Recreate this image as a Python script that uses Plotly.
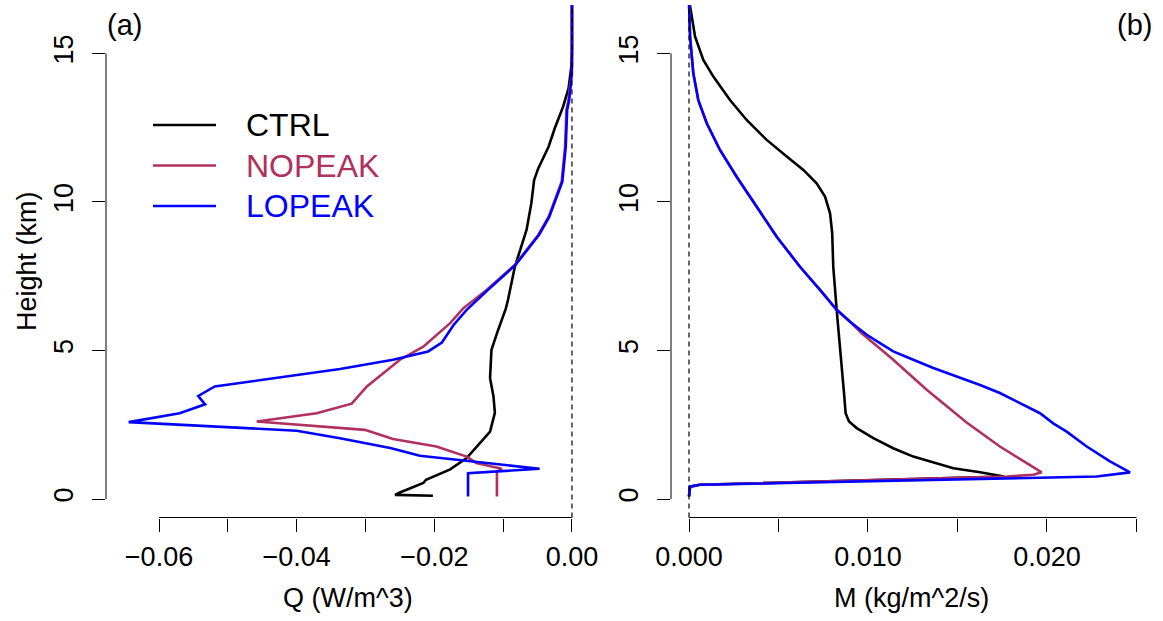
import plotly.graph_objects as go

# ---------------- data ----------------
series_names = ["CTRL", "NOPEAK", "LOPEAK"]
series_colors = ["#000000", "#B03060", "#0000FF"]

# Panel (a): Q (W/m^3) vs height (km)
ctrl_q_x = [-0.0202, -0.0257, -0.0250, -0.0216, -0.0212, -0.0177, -0.0153, -0.0119, -0.0112,
            -0.0114, -0.0119, -0.0117, -0.0109, -0.0096, -0.0093, -0.0083, -0.0066, -0.0059,
            -0.0055, -0.0049, -0.0034, -0.0025, -0.0013, -0.0005, -0.0001, 0.0, 0.0]
ctrl_q_h = [0.11, 0.14, 0.22, 0.54, 0.65, 1.00, 1.38, 2.27, 2.90,
            3.45, 4.07, 5.02, 5.58, 6.42, 6.70, 7.82, 9.06, 9.96,
            10.74, 11.13, 11.86, 12.48, 13.20, 13.82, 14.55, 15.10, 16.70]

nopeak_q_x = [-0.0109, -0.0109, -0.0102, -0.0139, -0.0153, -0.0197, -0.0260, -0.0301, -0.0458,
              -0.0371, -0.0320, -0.0298, -0.0289, -0.0250, -0.0216, -0.0177, -0.0158, -0.0124,
              -0.0083, -0.0049, -0.0034, -0.0015, -0.0010, -0.0008, -0.0005, -0.0003, 0.0, 0.0]
nopeak_q_h = [0.09, 0.93, 1.02, 1.21, 1.43, 1.77, 2.02, 2.33, 2.61,
              2.89, 3.21, 3.79, 3.96, 4.69, 5.13, 5.92, 6.42, 7.04,
              7.88, 8.89, 9.50, 10.68, 11.86, 13.10, 13.43, 13.88, 14.30, 16.70]

lopeak_q_x = [-0.0151, -0.0151, -0.0047, -0.0221, -0.0264, -0.0337, -0.0400, -0.0644, -0.0570,
              -0.0533, -0.0543, -0.0519, -0.0337, -0.0260, -0.0209, -0.0189, -0.0172, -0.0153,
              -0.0122, -0.0082, -0.0048, -0.0033, -0.0014, -0.0009, -0.0007, -0.0004, -0.0002,
              0.0, 0.0]
lopeak_q_h = [0.09, 0.87, 1.02, 1.46, 1.72, 2.05, 2.30, 2.59, 2.89,
              3.19, 3.47, 3.79, 4.38, 4.69, 4.97, 5.27, 5.86, 6.37,
              7.04, 7.88, 8.89, 9.50, 10.68, 11.86, 13.10, 13.43, 13.88,
              14.60, 16.70]

# Panel (b): M (kg/m^2/s) vs height (km)
ctrl_m_x = [0.0, 0.00006, 0.0006, 0.0176, 0.01626, 0.01477, 0.01253, 0.01141, 0.0103,
            0.00937, 0.00894, 0.00875, 0.00866, 0.00844, 0.00825, 0.00806, 0.0080, 0.00788,
            0.0076, 0.00713, 0.00639, 0.00546, 0.00434, 0.00322, 0.00229, 0.00136, 0.0008,
            0.00034, 0.00006, 0.00003]
ctrl_m_h = [0.09, 0.42, 0.48, 0.76, 0.90, 1.04, 1.43, 1.71, 2.05,
            2.39, 2.61, 2.89, 3.57, 5.02, 6.37, 7.82, 8.95, 9.62,
            10.18, 10.63, 11.08, 11.53, 12.09, 12.76, 13.43, 14.22, 14.78,
            15.56, 16.57, 16.70]

nopeak_m_x = [0.0, 0.00006, 0.0006, 0.01775, 0.01924, 0.0197, 0.01887, 0.01737, 0.01551,
              0.01328, 0.01141, 0.00965, 0.0090, 0.00825, 0.00732, 0.0062, 0.0049, 0.00378,
              0.00266, 0.00173, 0.00099, 0.00052, 0.00024, 0.00006, 0.0]
nopeak_m_h = [0.09, 0.42, 0.48, 0.76, 0.82, 0.90, 1.21, 1.77, 2.58,
              3.68, 4.69, 5.58, 5.97, 6.37, 7.04, 7.82, 8.83, 9.84,
              10.85, 11.75, 12.65, 13.43, 14.33, 15.56, 16.70]

lopeak_m_x = [0.0, 0.00006, 0.0006, 0.02278, 0.02464, 0.02352, 0.02222, 0.0211, 0.02035,
              0.01961, 0.01849, 0.01737, 0.01626, 0.01496, 0.01365, 0.01253, 0.01141, 0.01067,
              0.00993, 0.0090, 0.00825, 0.00732, 0.0062, 0.0049, 0.00378, 0.00266, 0.00173,
              0.00099, 0.00052, 0.00024, 0.00006, 0.0]
lopeak_m_h = [0.09, 0.42, 0.48, 0.76, 0.90, 1.27, 1.77, 2.27, 2.55,
              2.89, 3.23, 3.57, 3.84, 4.12, 4.41, 4.69, 4.97, 5.25,
              5.53, 5.97, 6.37, 7.04, 7.82, 8.83, 9.84, 10.85, 11.75,
              12.65, 13.43, 14.33, 15.56, 16.70]

q_ticks = [-0.06, -0.05, -0.04, -0.03, -0.02, -0.01, 0.0]
q_ticktext = ["\u22120.06", "", "\u22120.04", "", "\u22120.02", "", "0.00"]
m_ticks = [0.0, 0.005, 0.010, 0.015, 0.020, 0.025]
m_ticktext = ["0.000", "", "0.010", "", "0.020", ""]
h_ticks = [0, 5, 10, 15]
h_ticktext = ["0", "5", "10", "15"]

# ---------------- figure ----------------
W, H = 1163, 621
FONT = "Liberation Sans, Arial, sans-serif"
TICKFS = 27

fig = go.Figure()

panel_a = [(ctrl_q_x, ctrl_q_h), (nopeak_q_x, nopeak_q_h), (lopeak_q_x, lopeak_q_h)]
panel_b = [(ctrl_m_x, ctrl_m_h), (nopeak_m_x, nopeak_m_h), (lopeak_m_x, lopeak_m_h)]

for (xs, hs), name, col in zip(panel_a, series_names, series_colors):
    fig.add_trace(go.Scatter(x=xs, y=hs, mode="lines", name=name, showlegend=False,
                             line=dict(color=col, width=2.6), xaxis="x", yaxis="y"))
for (xs, hs), name, col in zip(panel_b, series_names, series_colors):
    fig.add_trace(go.Scatter(x=xs, y=hs, mode="lines", name=name, showlegend=False,
                             line=dict(color=col, width=2.6), xaxis="x2", yaxis="y2"))

xa_dom = [106 / W, 590 / W]
xb_dom = [671 / W, 1149 / W]
y_dom = [(H - 517.5) / H, (H - 5) / H]
y_range = [-0.62, 16.63]

common_ax = dict(showgrid=False, zeroline=False, showline=False, ticks="outside",
                 ticklen=13, tickwidth=1, tickcolor="black", automargin=False,
                 tickfont=dict(family=FONT, size=TICKFS, color="black"))

fig.update_layout(
    width=W, height=H, margin=dict(l=0, r=0, t=0, b=0, autoexpand=False),
    paper_bgcolor="white", plot_bgcolor="white", showlegend=False,
    xaxis=dict(domain=xa_dom, range=[-0.0677, 0.00262], anchor="y",
               tickmode="array", tickvals=q_ticks, ticktext=q_ticktext,
               ticklabelstandoff=2, **common_ax),
    yaxis=dict(domain=y_dom, range=y_range, anchor="x",
               tickmode="array", tickvals=h_ticks, ticktext=h_ticktext,
               tickangle=-90, ticklabelstandoff=8, **common_ax),
    xaxis2=dict(domain=xb_dom, range=[-0.001006, 0.0257], anchor="y2",
                tickmode="array", tickvals=m_ticks, ticktext=m_ticktext,
                ticklabelstandoff=2, **common_ax),
    yaxis2=dict(domain=y_dom, range=y_range, anchor="x2",
                tickmode="array", tickvals=h_ticks, ticktext=h_ticktext,
                tickangle=-90, ticklabelstandoff=8, **common_ax),
)

shapes = []
# axis lines spanning first to last tick (R style)
shapes.append(dict(type="line", xref="x", yref="y domain", x0=q_ticks[0], x1=q_ticks[-1],
                   y0=0, y1=0, line=dict(color="black", width=1)))
shapes.append(dict(type="line", xref="x2", yref="y2 domain", x0=m_ticks[0], x1=m_ticks[-1],
                   y0=0, y1=0, line=dict(color="black", width=1)))
shapes.append(dict(type="line", xref="x domain", yref="y", x0=0, x1=0,
                   y0=h_ticks[0], y1=h_ticks[-1], line=dict(color="black", width=1)))
shapes.append(dict(type="line", xref="x2 domain", yref="y2", x0=0, x1=0,
                   y0=h_ticks[0], y1=h_ticks[-1], line=dict(color="black", width=1)))
# dashed zero lines
shapes.append(dict(type="line", xref="x", yref="y domain", x0=0, x1=0, y0=0, y1=1,
                   line=dict(color="black", width=1.2, dash="5px,4px")))
shapes.append(dict(type="line", xref="x2", yref="y2 domain", x0=0, x1=0, y0=0, y1=1,
                   line=dict(color="black", width=1.2, dash="5px,4px")))

# legend (drawn manually, R style)
leg_rows = [125, 165.5, 206]
for name, col, yy in zip(series_names, series_colors, leg_rows):
    shapes.append(dict(type="line", xref="paper", yref="paper",
                       x0=153 / W, x1=216 / W, y0=1 - yy / H, y1=1 - yy / H,
                       line=dict(color=col, width=2.6)))
fig.update_layout(shapes=shapes)

annotations = []
for name, col, yy in zip(series_names, series_colors, leg_rows):
    annotations.append(dict(text=name, xref="paper", yref="paper", x=244 / W, y=1 - yy / H,
                            xanchor="left", yanchor="middle", showarrow=False,
                            font=dict(family=FONT, size=32, color=col)))
annotations += [
    dict(text="(a)", xref="paper", yref="paper", x=105 / W, y=1 - 25 / H,
         xanchor="left", yanchor="middle", showarrow=False,
         font=dict(family=FONT, size=29, color="black")),
    dict(text="(b)", xref="paper", yref="paper", x=1154 / W, y=1 - 25 / H,
         xanchor="right", yanchor="middle", showarrow=False,
         font=dict(family=FONT, size=29, color="black")),
    dict(text="Q (W/m^3)", xref="paper", yref="paper", x=348 / W, y=1 - 598 / H,
         xanchor="center", yanchor="middle", showarrow=False,
         font=dict(family=FONT, size=TICKFS, color="black")),
    dict(text="M (kg/m^2/s)", xref="paper", yref="paper", x=911 / W, y=1 - 598 / H,
         xanchor="center", yanchor="middle", showarrow=False,
         font=dict(family=FONT, size=TICKFS, color="black")),
    dict(text="Height (km)", xref="paper", yref="paper", x=27 / W, y=1 - 261 / H,
         xanchor="center", yanchor="middle", showarrow=False, textangle=-90,
         font=dict(family=FONT, size=TICKFS, color="black")),
]
fig.update_layout(annotations=annotations)

fig.write_html("out.html", config={"displayModeBar": False},
               post_script="document.body.style.margin='0';document.body.style.overflow='hidden';")
